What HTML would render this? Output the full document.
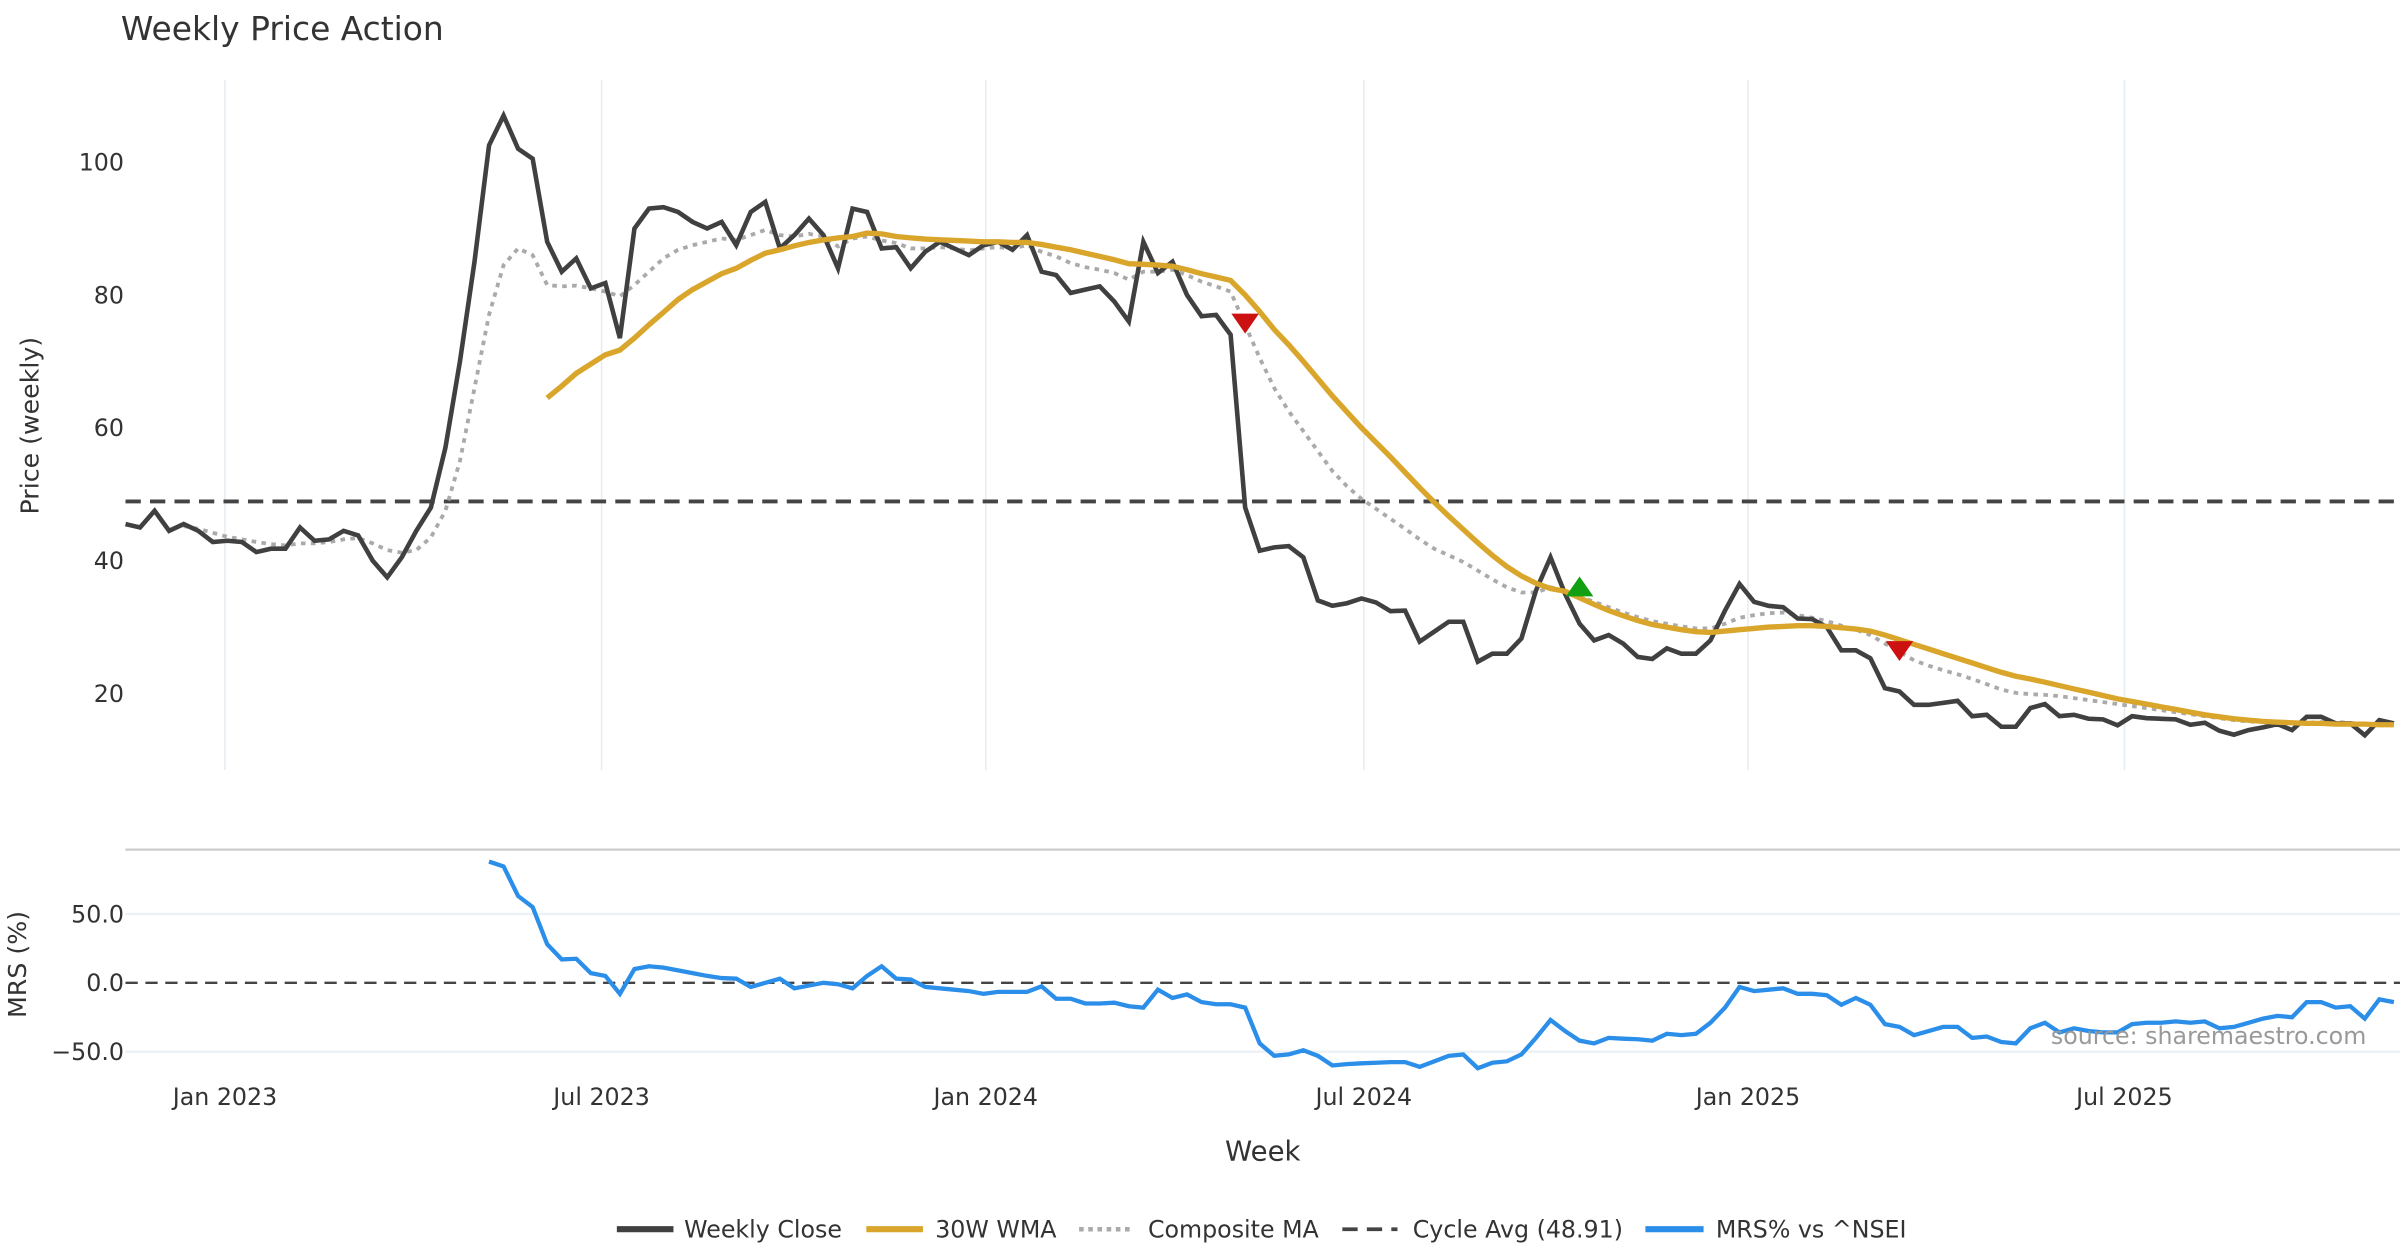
<!DOCTYPE html>
<html><head><meta charset="utf-8"><style>
html,body{margin:0;padding:0;background:#fff;}
svg{display:block;font-family:"DejaVu Sans","Liberation Sans",sans-serif;}
</style></head><body>
<svg id="chart" width="2400" height="1260" viewBox="0 0 1568 823" xmlns="http://www.w3.org/2000/svg">
<rect width="1568" height="823" fill="#fff"/>
<text x="79" y="26" font-size="21.5" fill="#333">Weekly Price Action</text>
<g id="grid"></g>
<g id="axes"></g>
<g id="series"></g>
<text transform="translate(25,278) rotate(-90)" text-anchor="middle" font-size="16.5" fill="#333">Price (weekly)</text>
<text transform="translate(17,630) rotate(-90)" text-anchor="middle" font-size="16.5" fill="#333">MRS (%)</text>
<text x="825" y="758" text-anchor="middle" font-size="18" fill="#333">Week</text>
<text x="1546" y="682" text-anchor="end" font-size="15.5" fill="#999">source: sharemaestro.com</text>
<g font-size="15.5" fill="#333">
<g><line x1="403" y1="803" x2="440" y2="803" stroke="#404040" stroke-width="4"/><text x="447" y="808.5">Weekly Close</text></g>
<g><line x1="566" y1="803" x2="603" y2="803" stroke="#d9a62b" stroke-width="4"/><text x="611" y="808.5">30W WMA</text></g>
<g><line x1="705" y1="803" x2="741" y2="803" stroke="#aaa" stroke-width="3" stroke-dasharray="3,3"/><text x="750" y="808.5">Composite MA</text></g>
<g><line x1="877" y1="803" x2="913" y2="803" stroke="#444" stroke-width="2.5" stroke-dasharray="10,6"/><text x="923" y="808.5">Cycle Avg (48.91)</text></g>
<g><line x1="1075" y1="803" x2="1113" y2="803" stroke="#2b8ee8" stroke-width="4"/><text x="1121" y="808.5">MRS% vs ^NSEI</text></g>
</g>
</svg>
<script>
const closeVals=[45.5,45,47.5,44.5,45.5,44.5,42.8,43,42.8,41.3,41.8,41.8,45,43,43.2,44.5,43.8,40,37.5,40.5,44.5,48,57,70,85,102.5,107,102,100.5,88,83.5,85.5,81,81.8,73.5,90,93,93.2,92.5,91,90,91,87.5,92.5,94,87,89,91.5,89,84,93,92.5,87,87.2,84,86.5,88,87,86,87.5,88,86.8,89,83.5,83,80.3,80.8,81.3,79,76,88,83.3,85,80,76.8,77,74,48,41.5,42,42.2,40.5,34,33.2,33.6,34.3,33.7,32.4,32.5,27.8,29.3,30.8,30.8,24.8,26,26,28.3,35.5,40.5,35,30.5,28,28.8,27.5,25.5,25.2,26.8,26,26,28,32.5,36.5,33.8,33.2,33,31.3,31.2,30,26.5,26.5,25.3,20.8,20.3,18.3,18.3,18.6,18.9,16.6,16.8,15,15,17.8,18.4,16.6,16.8,16.2,16.1,15.2,16.6,16.3,16.2,16.1,15.3,15.6,14.4,13.8,14.5,14.9,15.4,14.5,16.5,16.5,15.5,15.5,13.7,16,15.5];
const wmaStart=29;
const wmaVals=[64.5,66.3,68.2,69.6,71,71.7,73.5,75.5,77.4,79.3,80.8,82,83.2,84,85.2,86.3,86.8,87.4,87.9,88.3,88.6,88.8,89.3,89.2,88.8,88.6,88.4,88.3,88.2,88.1,88,88,87.9,87.9,87.6,87.2,86.8,86.3,85.8,85.3,84.7,84.6,84.5,84.3,83.8,83.2,82.7,82.2,80,77.5,74.8,72.5,70,67.4,64.8,62.4,60,57.8,55.6,53.3,51,48.8,46.7,44.7,42.7,40.8,39.1,37.7,36.6,35.8,35.4,34.4,33.4,32.5,31.7,31,30.4,30,29.6,29.3,29.2,29.4,29.6,29.8,30,30.1,30.2,30.2,30.1,29.9,29.7,29.4,28.8,28.1,27.4,26.7,26,25.3,24.6,23.9,23.2,22.6,22.2,21.7,21.2,20.7,20.2,19.7,19.2,18.8,18.4,18,17.6,17.2,16.8,16.5,16.2,16,15.8,15.7,15.6,15.5,15.5,15.4,15.4,15.4,15.3,15.3];
const compStart=4;
const compVals=[45.2,44.8,44.2,43.6,43.2,42.8,42.5,42.3,42.6,42.6,42.8,43.2,43.4,42.6,41.6,41.2,41.6,43.5,47.5,55,66,77,84.5,87,86,81.5,81.3,81.4,81,80.5,79.8,81.5,83.5,85.5,86.8,87.5,88,88.5,88.3,89,89.8,89,88.8,89.2,88.8,87.3,88.5,88.8,88.2,87.8,87,87,87.2,87,86.7,87,87.2,87,87.5,86.5,85.8,84.8,84.2,83.8,83.3,82.3,83.5,83.5,83.8,83,82,81.3,80.5,75.5,70.5,66,62.5,59.5,56.5,53.5,51.2,49.3,47.8,46.3,44.8,43.2,41.8,40.8,39.8,38.5,37.2,36,35.2,35.2,36,35.5,34.6,33.8,33,32.2,31.5,30.9,30.5,30.1,29.8,29.8,30.5,31.4,31.8,32.1,32.2,31.8,31.4,30.9,30.2,29.6,28.8,27.5,26.3,25,24.2,23.5,22.9,22.2,21.4,20.6,20.1,19.9,19.8,19.6,19.3,19,18.7,18.4,18.1,17.8,17.5,17.2,16.9,16.6,16.3,16,15.8,15.7,15.6,15.5,15.6,15.7,15.7,15.6,15.4,15.4,15.4];
const mrsStart=25;
const mrsVals=[88,84.5,63,55,28,17,17.5,7,5,-8,10,12,11,9,7,5,3.5,3,-3,0,3,-4,-2,0,-1,-4,5,12,3,2.5,-3,-4,-5,-6,-8,-6.5,-6.5,-6.5,-2.5,-11.5,-11.5,-15,-15,-14.5,-17,-18,-5,-11,-8.5,-14,-15.5,-15.5,-18,-44,-53,-52,-49,-53,-60,-59,-58.5,-58,-57.5,-57.5,-61,-57,-53,-52,-62,-58,-57,-52,-40,-27,-35,-42,-44,-40,-40.5,-41,-42,-37,-38,-37,-29,-18,-3,-6,-5,-4,-8,-8,-9,-16,-11,-16,-30,-32,-38,-35,-32,-32,-40,-39,-43,-44,-33,-29,-36,-33,-35,-36,-36,-30,-29,-29,-28,-29,-28,-33,-32,-29,-26,-24,-25,-14,-14,-18,-17,-26,-12,-14];
const sellIdx=[77,122];
const sellVals=[75.8,26.5];
const buyIdx=[100];
const buyVals=[36];
const cycleAvg=48.91;
const priceTicks=[20,40,60,80,100];
const mrsTicks=[-50,0,50];
const mrsTickLabels=["\u221250.0","0.0","50.0"];
const dateTickIdx=[6.84,32.74,59.16,85.16,111.58,137.47];
const dateTickLabels=["Jan 2023","Jul 2023","Jan 2024","Jul 2024","Jan 2025","Jul 2025"];

const NS="http://www.w3.org/2000/svg";
const X=i=>82+9.5*i;
const Y=v=>453-(v-20)*4.34;
const M=v=>642-v*0.9;
function mk(tag,attrs,parent){const e=document.createElementNS(NS,tag);for(const k in attrs)e.setAttribute(k,attrs[k]);document.getElementById(parent).appendChild(e);return e;}
dateTickIdx.forEach((d,k)=>{
 const g=mk('line',{x1:X(d),x2:X(d),y1:52,y2:503,stroke:'#e6edf2','stroke-width':1},'grid');
 
 
 const t=mk('text',{x:X(d),y:722,'text-anchor':'middle','font-size':15.5,fill:'#333'},'axes');
 t.textContent=dateTickLabels[k];
 
 
});
priceTicks.forEach(v=>{
 const t=mk('text',{x:81,y:Y(v)+5.5,'text-anchor':'end','font-size':15.5,fill:'#333'},'axes');
 t.textContent=v;
 
 
});
const sep=mk('line',{x1:82,x2:1568,y1:555,y2:555,stroke:'#ccc','stroke-width':1.5},'grid');


mrsTicks.forEach((v,k)=>{
 if(v!==0){const g=mk('line',{x1:82,x2:1568,y1:M(v),y2:M(v),stroke:'#edf0f4','stroke-width':1.5},'grid');
 
 }
 const t=mk('text',{x:81,y:M(v)+5.5,'text-anchor':'end','font-size':15.5,fill:'#333'},'axes');
 t.textContent=mrsTickLabels[k];
 
 
});
const zl=mk('line',{x1:82,x2:1568,y1:M(0),y2:M(0),stroke:'#444','stroke-width':1.5,'stroke-dasharray':'8,5'},'series');


const ca=mk('line',{x1:82,x2:1568,y1:Y(cycleAvg),y2:Y(cycleAvg),stroke:'#444','stroke-width':2.5,'stroke-dasharray':'10,6'},'series');


function pts(vals,start,fy){return vals.map((v,i)=>X(start+i).toFixed(1)+','+fy(v).toFixed(1)).join(' ');}
const comp=mk('polyline',{points:pts(compVals,compStart,Y),fill:'none',stroke:'#aaa','stroke-width':2.5,'stroke-dasharray':'3,3.5'},'series');


const cl=mk('polyline',{points:pts(closeVals,0,Y),fill:'none',stroke:'#404040','stroke-width':3},'series');


const wma=mk('polyline',{points:pts(wmaVals,wmaStart,Y),fill:'none',stroke:'#d9a62b','stroke-width':3.5},'series');


const mrs=mk('polyline',{points:pts(mrsVals,mrsStart,M),fill:'none',stroke:'#2b8ee8','stroke-width':2.8},'series');


sellIdx.forEach((d,k)=>{const x=X(d),y=Y(sellVals[k]);
 const p=mk('polygon',{points:`${x-9},${y-6} ${x+9},${y-6} ${x},${y+7}`,fill:'#cc1111'},'series');
 
 });
buyIdx.forEach((d,k)=>{const x=X(d),y=Y(buyVals[k]);
 const p=mk('polygon',{points:`${x-9},${y+6} ${x+9},${y+6} ${x},${y-7}`,fill:'#11a011'},'series');
 
 });
</script>
</body></html>
